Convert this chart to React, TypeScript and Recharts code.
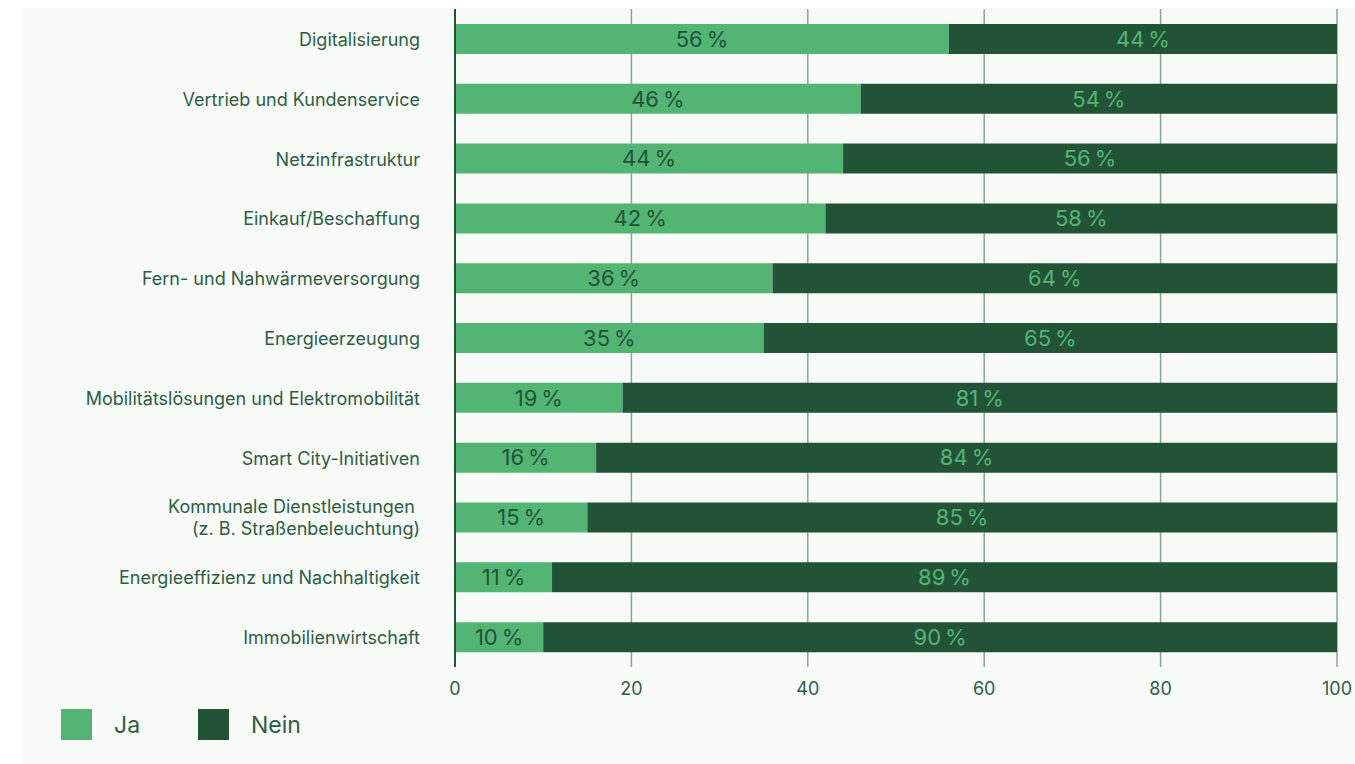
import React from 'react';
import { BarChart, Bar, XAxis, YAxis, CartesianGrid, LabelList } from 'recharts';

const categories = [
  'Digitalisierung',
  'Vertrieb und Kundenservice',
  'Netzinfrastruktur',
  'Einkauf/Beschaffung',
  'Fern- und Nahwärmeversorgung',
  'Energieerzeugung',
  'Mobilitätslösungen und Elektromobilität',
  'Smart City-Initiativen',
  'Kommunale Dienstleistungen \n(z. B. Straßenbeleuchtung)',
  'Energieeffizienz und Nachhaltigkeit',
  'Immobilienwirtschaft',
];

const jaValues = [56, 46, 44, 42, 36, 35, 19, 16, 15, 11, 10];
const neinValues = [44, 54, 56, 58, 64, 65, 81, 84, 85, 89, 90];

const xTicks = [0, 20, 40, 60, 80, 100];

const seriesNames = ['Ja', 'Nein'];
const seriesColors = ['#52b574', '#225337'];

const textColor = '#2d5e42';
const fontFamily = 'Inter, "Noto Sans", sans-serif';

const data = categories.map((name, i) => ({
  name,
  ja: jaValues[i],
  nein: neinValues[i],
}));

// y-axis tick with support for two-line labels
function CategoryTick(props: any) {
  const { x, y, payload } = props;
  const lines = String(payload.value).split('\n');
  const lineHeight = 22;
  const startY = y - ((lines.length - 1) * lineHeight) / 2;
  return (
    <text
      x={x}
      y={startY}
      textAnchor="end"
      fill={textColor}
      fontSize={18}
      fontFamily={fontFamily}
      dominantBaseline="central"
    >
      {lines.map((line, i) => (
        <tspan key={i} x={x} y={startY + i * lineHeight} style={{ whiteSpace: 'pre' }}>
          {line}
        </tspan>
      ))}
    </text>
  );
}

const pct = (v: any) => `${v}\u202F%`;

export default function App() {
  return (
    <div style={{ position: 'absolute', left: 0, top: 0, width: 1355, height: 764, background: '#fff' }}>
      <div style={{ position: 'absolute', left: 22, top: 8, width: 1333, height: 756, background: '#f8faf8' }} />
      <div style={{ position: 'absolute', left: 0, top: 0 }}>
        <BarChart
          width={1355}
          height={764}
          data={data}
          layout="vertical"
          margin={{ top: 9, right: 18, bottom: 57, left: 0 }}
          barCategoryGap="25%"
        >
          <CartesianGrid horizontal={false} stroke="#8aa795" strokeWidth={1.5} />
          <XAxis
            type="number"
            domain={[0, 100]}
            ticks={xTicks}
            axisLine={false}
            tickLine={false}
            tickSize={0}
            tickMargin={15}
            height={40}
            tick={{ fill: textColor, fontSize: 18, fontFamily }}
          />
          <YAxis
            type="category"
            dataKey="name"
            width={455}
            axisLine={{ stroke: '#225337', strokeWidth: 2 }}
            tickLine={false}
            tickSize={0}
            tickMargin={35}
            interval={0}
            tick={<CategoryTick />}
          />
          <Bar dataKey="ja" name={seriesNames[0]} stackId="a" fill={seriesColors[0]} isAnimationActive={false}>
            <LabelList
              dataKey="ja"
              position="center"
              formatter={pct}
              fill="#225337"
              style={{ fontSize: 22, fontFamily, letterSpacing: -0.3 }}
            />
          </Bar>
          <Bar dataKey="nein" name={seriesNames[1]} stackId="a" fill={seriesColors[1]} isAnimationActive={false}>
            <LabelList
              dataKey="nein"
              position="center"
              formatter={pct}
              fill="#52b574"
              style={{ fontSize: 22, fontFamily, letterSpacing: -0.3 }}
            />
          </Bar>
        </BarChart>
      </div>
      {/* legend */}
      <div style={{ position: 'absolute', left: 61, top: 709, display: 'flex', alignItems: 'center', fontFamily, color: textColor }}>
        {seriesNames.map((n, i) => (
          <div key={n} style={{ display: 'flex', alignItems: 'center', width: i === 0 ? 137 : 'auto' }}>
            <div style={{ width: 31, height: 31, background: seriesColors[i] }} />
            <span style={{ marginLeft: 22, fontSize: 23 }}>{n}</span>
          </div>
        ))}
      </div>
    </div>
  );
}
